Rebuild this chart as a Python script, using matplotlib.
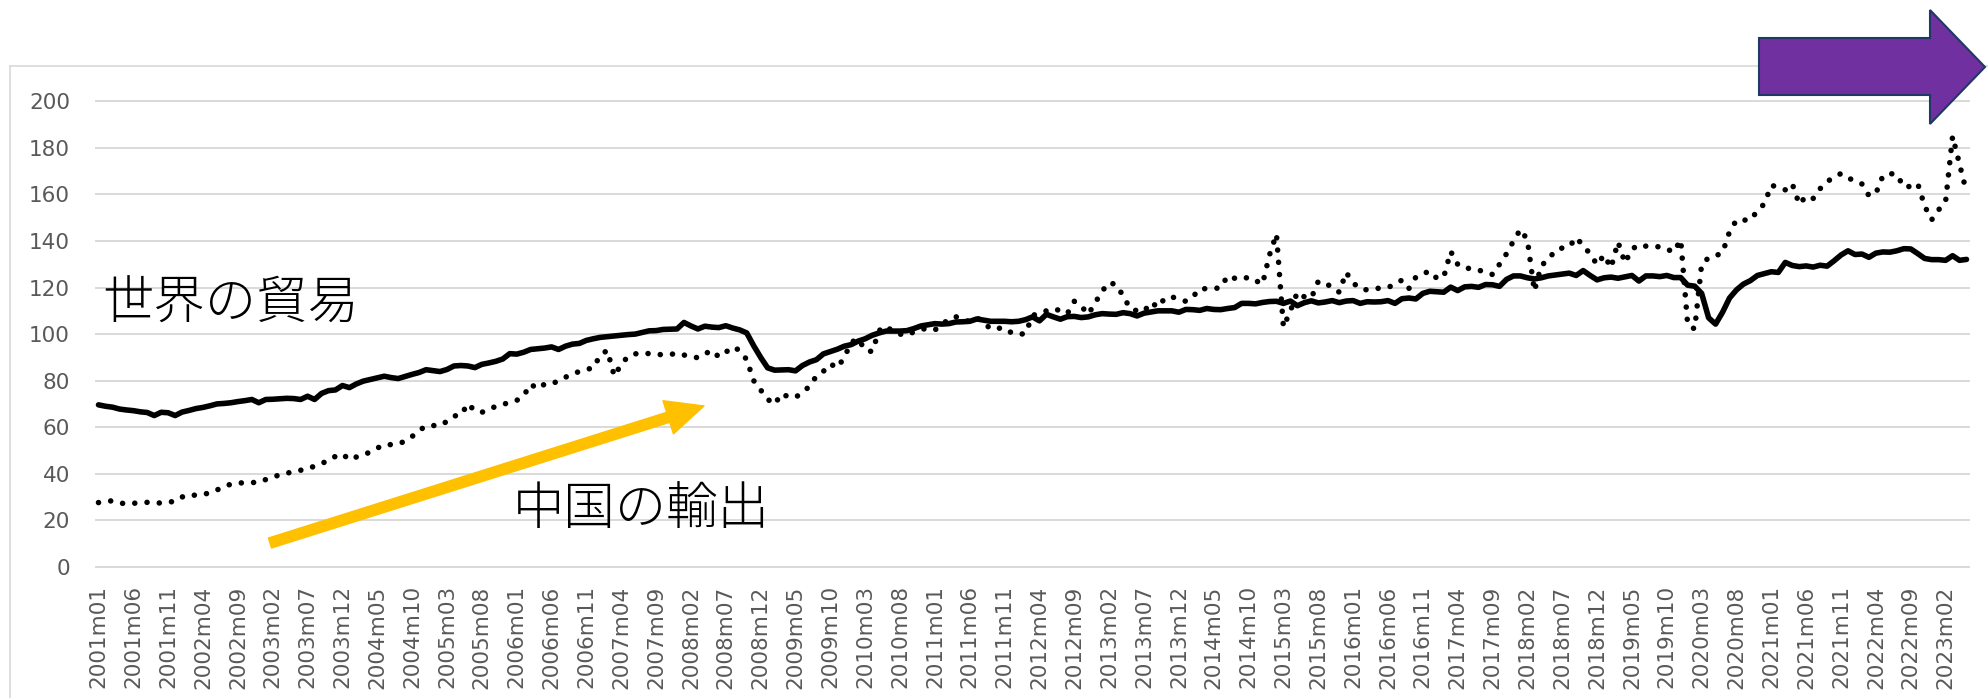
import matplotlib
matplotlib.use('Agg')
import matplotlib.pyplot as plt
from matplotlib.patches import FancyArrowPatch, Polygon
from matplotlib.lines import Line2D
from matplotlib.transforms import IdentityTransform
import numpy as np

# 月次カテゴリ 2001m01 .. 2023m05
months = [f'{2001 + i // 12}m{i % 12 + 1:02d}' for i in range(269)]

# 世界の貿易（実線）
world_trade = [
    69.6, 69.0, 68.6, 67.8, 67.4, 67.1, 66.6, 66.3, 65.0, 66.4, 66.2, 65.0,
    66.5, 67.2, 68.0, 68.5, 69.2, 70.0, 70.2, 70.5, 71.0, 71.4, 71.9, 70.5,
    71.9, 72.0, 72.2, 72.4, 72.3, 71.9, 73.3, 71.9, 74.5, 75.7, 76.0, 77.9,
    77.0, 78.6, 79.8, 80.5, 81.2, 81.9, 81.3, 80.9, 81.8, 82.7, 83.5, 84.7,
    84.3, 83.9, 84.8, 86.3, 86.5, 86.3, 85.6, 87.0, 87.6, 88.3, 89.3, 91.6,
    91.4, 92.2, 93.4, 93.7, 94.0, 94.5, 93.4, 94.8, 95.7, 96.0, 97.3, 98.0,
    98.6, 98.9, 99.2, 99.5, 99.8, 100.0, 100.7, 101.4, 101.5, 102.0, 102.1, 102.2,
    105.0, 103.5, 102.2, 103.4, 103.0, 102.8, 103.6, 102.6, 101.8, 100.5, 95.0, 90.0,
    85.5, 84.5, 84.6, 84.7, 84.2, 86.5, 88.0, 89.0, 91.5, 92.5, 93.5, 94.8,
    95.5, 97.0, 98.0, 99.5, 100.5, 101.3, 101.3, 101.3, 101.5, 102.4, 103.5, 104.0,
    104.5, 104.3, 104.5, 105.2, 105.3, 105.5, 106.5, 106.0, 105.5, 105.5, 105.5, 105.3,
    105.5, 106.2, 107.4, 105.7, 108.5, 107.4, 106.4, 107.5, 107.6, 107.1, 107.4, 108.3,
    108.8, 108.6, 108.5, 109.2, 108.8, 107.8, 109.0, 109.5, 110.0, 110.0, 110.0, 109.4,
    110.6, 110.5, 110.2, 111.0, 110.6, 110.5, 111.0, 111.4, 113.2, 113.2, 113.0, 113.6,
    114.0, 114.1, 113.2, 114.2, 112.2, 113.5, 114.3, 113.4, 113.8, 114.4, 113.5, 114.2,
    114.4, 113.2, 113.9, 113.8, 113.9, 114.4, 113.2, 115.2, 115.5, 115.1, 117.5, 118.4,
    118.2, 118.0, 120.2, 118.7, 120.3, 120.5, 120.1, 121.3, 121.2, 120.5, 123.5, 125.0,
    125.0, 124.2, 123.7, 124.2, 125.0, 125.4, 125.8, 126.2, 125.2, 127.3, 125.2, 123.3,
    124.2, 124.5, 124.0, 124.6, 125.2, 122.8, 125.0, 125.0, 124.7, 125.2, 124.3, 124.3,
    121.0, 120.6, 117.5, 107.0, 104.3, 109.4, 115.5, 119.0, 121.5, 123.0, 125.2, 126.0,
    126.8, 126.5, 130.8, 129.5, 129.0, 129.3, 128.8, 129.6, 129.2, 131.5, 134.0, 135.8,
    134.2, 134.4, 133.0, 134.8, 135.3, 135.2, 135.8, 136.7, 136.6, 134.6, 132.5, 132.0,
    132.0, 131.7, 133.7, 131.7, 132.1,
]

# 中国の輸出（点線）
china_exports = [
    27.6, 28.0, 28.4, 27.5, 27.0, 27.3, 27.5, 27.7, 27.5, 27.4, 27.8, 28.1,
    30.0, 31.0, 30.7, 31.2, 31.7, 33.0, 34.5, 35.5, 36.0, 36.1, 36.2, 36.3,
    37.5, 38.4, 39.6, 40.2, 40.9, 41.5, 42.0, 43.3, 44.5, 45.5, 47.5, 48.5,
    46.0, 47.2, 48.0, 49.4, 51.0, 52.5, 52.5, 52.8, 54.0, 56.0, 58.6, 60.5,
    60.7, 60.7, 62.5, 64.8, 65.2, 70.1, 67.0, 66.4, 67.5, 69.0, 69.8, 70.6,
    71.5, 73.5, 78.5, 76.5, 78.5, 78.5, 80.0, 81.5, 82.7, 84.0, 84.8, 85.5,
    91.0, 93.0, 82.0, 87.0, 90.5, 91.5, 91.9, 91.6, 91.2, 91.2, 91.2, 91.8,
    91.0, 90.5, 89.8, 91.5, 93.0, 90.2, 92.2, 94.5, 93.0, 89.0, 80.0, 76.0,
    72.0, 69.8, 74.4, 73.0, 72.8, 75.0, 77.5, 82.0, 84.0, 87.2, 85.5, 90.0,
    96.5, 98.0, 93.0, 92.5, 101.5, 103.5, 101.0, 100.0, 99.5, 101.0, 102.0, 102.5,
    101.8, 104.0, 106.5, 107.5, 106.0, 105.5, 107.1, 105.0, 102.2, 102.5, 102.6, 100.5,
    99.8, 100.3, 108.0, 109.0, 110.0, 111.0, 110.0, 108.8, 114.1, 112.0, 108.5, 113.5,
    118.5, 122.2, 121.2, 116.5, 111.0, 110.0, 109.7, 113.7, 111.5, 115.5, 116.0, 115.0,
    114.1, 116.0, 119.5, 119.5, 119.5, 120.0, 125.0, 124.0, 123.5, 124.5, 123.0, 121.5,
    134.0, 143.0, 103.0, 110.0, 118.0, 116.0, 115.5, 122.7, 121.5, 120.5, 118.0, 126.5,
    122.0, 119.5, 119.0, 119.5, 119.8, 120.0, 121.5, 123.2, 119.6, 124.5, 126.0, 127.0,
    124.0, 124.5, 135.5, 130.0, 128.2, 128.3, 127.5, 126.6, 125.6, 130.0, 134.5, 140.0,
    145.0, 140.5, 118.5, 129.5, 132.0, 136.0, 137.0, 137.5, 141.5, 138.0, 134.5, 129.8,
    134.0, 128.5, 139.6, 130.6, 136.5, 138.4, 137.8, 137.4, 137.6, 136.5, 135.3, 140.5,
    104.0, 102.2, 130.0, 132.8, 133.6, 135.0, 144.0, 149.0, 149.0, 149.0, 153.0, 156.0,
    164.0, 163.0, 162.0, 164.6, 155.8, 159.3, 158.3, 162.5, 165.5, 167.5, 169.0, 167.0,
    166.0, 164.5, 159.5, 160.5, 168.0, 169.0, 168.6, 163.2, 163.5, 164.7, 155.0, 149.1,
    153.4, 157.0, 185.0, 173.0, 161.0,
]

y_ticks = [0, 20, 40, 60, 80, 100, 120, 140, 160, 180, 200]
label_world = '世界の貿易'
label_china = '中国の輸出'

W, H = 1988, 698
plt.rcParams['font.family'] = ['DejaVu Sans']
fig = plt.figure(figsize=(W / 100, H / 100), dpi=100)

# プロット領域（ピクセル位置から）
y0_px, y200_px = 566.8, 101.4
ppu = (y0_px - y200_px) / 200
ymin, ymax = -2, 202
top_px = y200_px - (ymax - 200) * ppu
bot_px = y0_px + (0 - ymin) * ppu
left_px, right_px = 95, 1970
ax = fig.add_axes([left_px / W, 1 - bot_px / H, (right_px - left_px) / W, (bot_px - top_px) / H])

x = np.arange(len(months))
ax.plot(x, world_trade, color='black', lw=4.0, solid_joinstyle='round',
        solid_capstyle='round', zorder=3)
ax.plot(x, china_exports, color='black', lw=4.0, linestyle=(0, (0.01, 2.2)),
        dash_capstyle='round', zorder=3)

ax.set_xlim(-0.5, len(months) - 0.5)
ax.set_ylim(ymin, ymax)
ax.set_yticks(y_ticks)
ax.set_xticks(x[::5])
ax.set_xticklabels(months[::5], rotation=90)
ax.grid(axis='y', color='#D9D9D9', lw=1.4)
ax.set_axisbelow(True)
for s in ax.spines.values():
    s.set_visible(False)
ax.tick_params(length=0, labelsize=15.5, labelcolor='#595959')
ax.tick_params(axis='y', pad=18)
ax.tick_params(axis='x', pad=10)

# 外枠（上と左）
fig.add_artist(Line2D([10 / W, 1], [1 - 66 / H, 1 - 66 / H], color='#D9D9D9', lw=1.2,
                      transform=fig.transFigure, zorder=1))
fig.add_artist(Line2D([10 / W, 10 / W], [0, 1 - 66 / H], color='#D9D9D9', lw=1.2,
                      transform=fig.transFigure, zorder=1))

# 注釈テキスト
jp = ['Noto Sans CJK JP', 'DejaVu Sans']
fig.text(102 / W, 1 - 304 / H, label_world, family=jp, fontsize=37, fontweight='light',
         va='center', ha='left')
fig.text(513 / W, 1 - 510 / H, label_china, family=jp, fontsize=37, fontweight='light',
         va='center', ha='left')

# 黄色の矢印
arrow = FancyArrowPatch((270, H - 543), (704, H - 406),
                        arrowstyle='simple,head_length=2.7,head_width=2.5,tail_width=0.75',
                        mutation_scale=10, color='#FFC000', shrinkA=0, shrinkB=0,
                        transform=IdentityTransform(), zorder=5)
fig.add_artist(arrow)

# 紫の矢印
pts = [(1759, 38), (1930, 38), (1930, 10), (1985, 67), (1930, 124), (1930, 95), (1759, 95)]
poly = Polygon([(px, H - py) for px, py in pts], closed=True, facecolor='#7030A0',
               edgecolor='#1F3864', lw=1.5, transform=IdentityTransform(), zorder=5)
fig.add_artist(poly)

fig.savefig('out.png', dpi=100)
